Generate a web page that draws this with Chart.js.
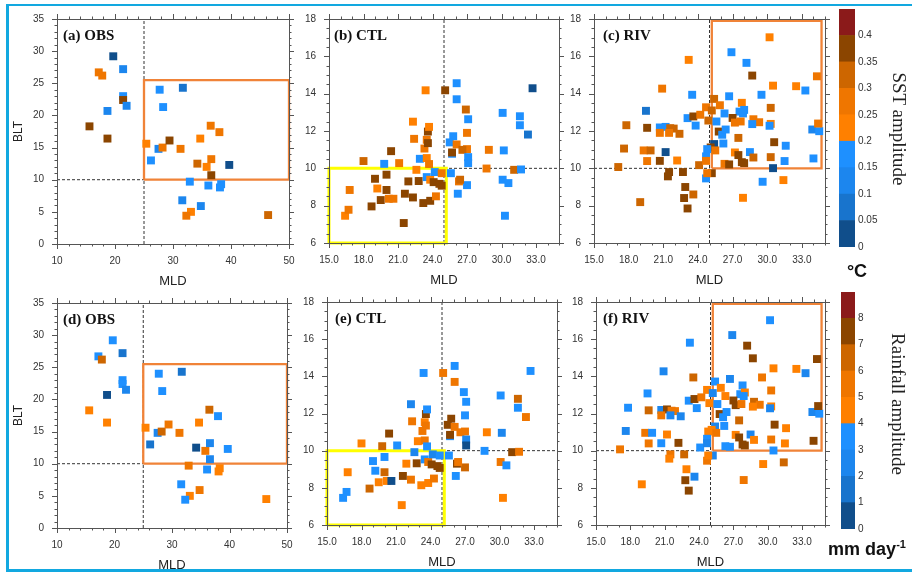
<!DOCTYPE html>
<html>
<head>
<meta charset="utf-8">
<script src="https://cdn.jsdelivr.net/npm/chart.js@4.4.1/dist/chart.umd.min.js"></script>
<style>
body { margin: 0; background: #fff; }
#fig { position: relative; width: 912px; height: 573px; overflow: hidden; background: #fff; }
#fig canvas { position: absolute; }
.edge { position: absolute; left: 6px; top: 4px; width: 940px; height: 563px;
        border-top: 2px solid #12a8e0; border-left: 3px solid #12a8e0; border-bottom: 3px solid #12a8e0; }
.ptitle { position: absolute; font: bold 15px "Liberation Serif", serif; line-height: 15px; color: #111; white-space: nowrap; }
.cbtitle { position: absolute; font: 19px "Liberation Serif", serif; line-height: 20px; color: #222; white-space: nowrap;
           transform: translate(-50%, -50%) rotate(90deg); }
.unit { position: absolute; font: bold 18px "Liberation Sans", Arial, sans-serif; line-height: 20px; color: #111; white-space: nowrap;
        transform: translate(-50%, -50%); }
.unit sup { font-size: 11px; }
</style>
</head>
<body>
<div id="fig"><div class="edge"></div></div>
<script>
// colour bar bins (shared by SST and rainfall amplitude)
const cbColors = ['#104e8b', '#1874cd', '#1c86ee', '#1e90ff', '#ff8000', '#ef7600', '#cd6600', '#8b4500', '#8b1a1a'];
const sstLevels = [0, 0.05, 0.1, 0.15, 0.2, 0.25, 0.3, 0.35, 0.4];
const sstLabels = ['0', '0.05', '0.1', '0.15', '0.2', '0.25', '0.3', '0.35', '0.4'];
const rainLevels = [0, 1, 2, 3, 4, 5, 6, 7, 8];
const rainLabels = ['0', '1', '2', '3', '4', '5', '6', '7', '8'];

// tick labels
const obsXTicks = [10, 20, 30, 40, 50];
const obsYTicks = [0, 5, 10, 15, 20, 25, 30, 35];
const modXTicks = [15, 18, 21, 24, 27, 30, 33];
const modYTicks = [6, 8, 10, 12, 14, 16, 18];

// OBS
const obsMLD = [19.7, 17.2, 17.8, 21.4, 21.4, 21.4, 22.0, 18.7, 15.6, 18.7, 27.7, 31.7, 28.3, 25.4, 27.5, 28.2, 29.4, 31.3, 26.2, 34.7,
  36.5, 38.0, 34.2, 35.8, 36.6, 36.6, 39.7, 32.9, 36.1, 38.1, 38.3, 31.6, 34.8, 33.1, 32.3, 46.4];
const obsBLT = [29.2, 26.7, 26.2, 27.2, 23.0, 22.4, 21.5, 20.7, 18.3, 16.4, 24.0, 24.3, 21.3, 15.6, 14.8, 15.0, 16.1, 14.8, 13.0, 16.4,
  18.4, 17.4, 12.5, 12.0, 13.2, 10.7, 12.3, 9.7, 9.1, 8.8, 9.3, 6.8, 5.9, 5.0, 4.4, 4.5];
const obsSST = [0.03, 0.27, 0.28, 0.12, 0.17, 0.37, 0.12, 0.11, 0.37, 0.38, 0.18, 0.08, 0.17, 0.24, 0.13, 0.26, 0.37, 0.27, 0.16, 0.24,
  0.26, 0.27, 0.33, 0.24, 0.26, 0.36, 0.04, 0.17, 0.16, 0.17, 0.18, 0.13, 0.12, 0.24, 0.26, 0.32];
const obsRain = [3.3, 3.5, 6.5, 1.8, 3.5, 3.4, 2.0, 0.5, 4.5, 4.6, 3.5, 1.8, 3.5, 4.7, 2.8, 6.4, 5.2, 5.4, 1.8, 4.5,
  6.3, 3.1, 0.6, 5.3, 2.6, 2.9, 3.2, 5.2, 3.3, 4.6, 4.4, 3.2, 5.4, 4.8, 3.4, 4.6];

// CTL
const ctlMLD = [16.4, 16.7, 16.8, 18.0, 18.7, 19.0, 19.2, 19.5, 19.8, 20.0, 20.0, 20.2, 20.6, 20.4, 21.1, 21.5, 21.6, 21.9, 22.3, 22.3,
  22.4, 22.6, 22.8, 22.9, 23.2, 23.3, 23.4, 23.5, 23.5, 23.6, 23.6, 23.7, 23.7, 23.5, 23.8, 23.8, 24.1, 24.2, 24.3, 24.6,
  24.8, 24.8, 25.1, 26.1, 26.1, 25.8, 25.5, 25.7, 25.7, 25.6, 26.1, 26.9, 27.1, 27.0, 27.0, 26.6, 27.1, 27.1, 27.0, 26.3,
  26.4, 26.2, 28.7, 28.9, 30.1, 30.2, 30.1, 30.6, 30.3, 31.1, 31.6, 31.6, 31.7, 32.3, 32.7];
const ctlBLT = [7.46, 7.78, 8.84, 10.39, 7.96, 9.44, 8.92, 8.30, 10.24, 9.66, 8.84, 8.37, 8.37, 10.92, 10.28, 7.07, 8.64, 9.30, 8.44, 12.5,
  11.58, 9.92, 9.32, 10.51, 8.14, 11.06, 14.18, 11.53, 10.55, 11.97, 11.35, 12.22, 10.23, 9.53, 9.39, 8.26, 9.26, 9.80, 8.50, 9.17,
  9.07, 9.74, 14.18, 14.56, 13.70, 11.72, 11.39, 10.78, 10.85, 9.74, 11.28, 13.15, 12.63, 11.9, 11.03, 10.99, 10.6, 10.28, 9.1, 9.3,
  9.39, 8.64, 9.99, 10.99, 12.97, 10.96, 9.39, 9.21, 7.46, 9.92, 12.79, 12.31, 9.94, 11.81, 14.29];
const ctlSST = [0.24, 0.26, 0.27, 0.32, 0.37, 0.37, 0.24, 0.37, 0.17, 0.37, 0.37, 0.27, 0.27, 0.38, 0.26, 0.38, 0.37, 0.37, 0.37, 0.24,
  0.27, 0.24, 0.37, 0.17, 0.38, 0.27, 0.24, 0.27, 0.24, 0.38, 0.37, 0.24, 0.27, 0.16, 0.24, 0.37, 0.38, 0.17, 0.27, 0.37,
  0.38, 0.26, 0.38, 0.17, 0.16, 0.17, 0.16, 0.17, 0.37, 0.17, 0.27, 0.32, 0.17, 0.26, 0.27, 0.32, 0.17, 0.17, 0.16, 0.27,
  0.32, 0.16, 0.27, 0.26, 0.17, 0.17, 0.17, 0.16, 0.17, 0.33, 0.17, 0.16, 0.16, 0.08, 0.03];
const ctlRain = [3.3, 3.4, 4.6, 4.5, 6.5, 3.3, 3.2, 4.7, 6.3, 3.4, 6.6, 4.8, 0.5, 7.5, 3.3, 4.6, 7.4, 4.5, 5.3, 2.5,
  5.2, 2.6, 7.3, 4.7, 4.8, 5.1, 3.5, 4.9, 5.0, 7.4, 5.2, 3.2, 3.3, 3.1, 5.1, 4.9, 7.2, 2.8, 5.3, 7.4,
  7.6, 3.5, 5.3, 3.4, 5.2, 7.4, 7.3, 3.2, 7.4, 3.3, 5.3, 3.2, 3.4, 3.3, 5.2, 5.5, 2.5, 0.6, 6.5, 7.3,
  5.3, 3.3, 3.4, 4.8, 3.1, 2.8, 5.1, 3.0, 4.6, 7.4, 6.3, 3.3, 5.1, 5.2, 3.4];

// RIV
const rivMLD = [30.2, 26.9, 23.2, 28.2, 28.7, 20.9, 30.5, 32.5, 33.3, 34.3, 23.5, 26.7, 29.5, 25.4, 25.9, 27.8, 30.3, 19.5, 24.7, 25.2,
  26.3, 27.6, 28.0, 27.9, 23.1, 23.6, 24.2, 24.9, 25.6, 27.0, 27.2, 27.7, 28.8, 29.3, 28.7, 30.3, 30.2, 17.8, 19.6, 20.7,
  21.2, 20.7, 21.6, 21.9, 21.5, 22.4, 23.8, 25.8, 26.1, 26.4, 33.9, 34.5, 34.4, 27.5, 26.2, 25.4, 25.1, 25.5, 24.8, 30.6,
  31.6, 17.6, 19.3, 19.9, 21.2, 24.7, 27.2, 27.5, 28.5, 28.8, 30.3, 31.5, 34.0, 17.1, 19.6, 20.7, 22.2, 24.1, 24.7, 26.3,
  26.7, 27.8, 28.0, 30.5, 21.5, 21.4, 22.7, 25.2, 24.7, 24.8, 29.6, 31.4, 22.9, 23.6, 22.8, 19.0, 27.9, 23.1];
const rivBLT = [17.02, 16.22, 15.81, 15.65, 14.97, 14.27, 14.43, 14.4, 14.17, 14.93, 13.94, 13.86, 13.94, 13.72, 13.38, 13.51, 13.24, 13.08, 13.27, 13.10,
  12.94, 13.04, 13.13, 12.94, 12.69, 12.78, 12.87, 12.56, 12.51, 12.7, 12.45, 12.51, 12.63, 12.47, 12.37, 12.38, 12.28, 12.31, 12.17, 12.19,
  12.22, 11.9, 12.15, 12.13, 11.9, 11.85, 12.29, 11.97, 11.8, 12.08, 12.08, 11.99, 12.4, 11.63, 11.33, 11.3, 11.12, 10.96, 11.03, 11.40,
  11.21, 11.06, 10.96, 10.96, 10.87, 10.64, 10.85, 10.71, 10.87, 10.58, 10.6, 10.39, 10.53, 10.07, 10.39, 10.4, 10.42, 10.17, 10.4, 10.24,
  10.21, 10.33, 10.28, 10.01, 9.80, 9.57, 9.80, 9.74, 9.46, 9.74, 9.28, 9.37, 9.0, 8.6, 8.41, 8.19, 8.42, 7.85];
const rivSST = [0.24, 0.16, 0.24, 0.17, 0.37, 0.27, 0.24, 0.24, 0.16, 0.26, 0.17, 0.17, 0.16, 0.32, 0.27, 0.24, 0.32, 0.08, 0.28, 0.33,
  0.17, 0.17, 0.17, 0.16, 0.16, 0.37, 0.28, 0.34, 0.16, 0.37, 0.27, 0.26, 0.27, 0.27, 0.17, 0.24, 0.16, 0.31, 0.37, 0.16,
  0.16, 0.27, 0.31, 0.31, 0.27, 0.32, 0.16, 0.37, 0.16, 0.17, 0.12, 0.17, 0.28, 0.31, 0.16, 0.03, 0.36, 0.27, 0.17, 0.37,
  0.17, 0.31, 0.27, 0.31, 0.03, 0.17, 0.24, 0.37, 0.16, 0.31, 0.31, 0.17, 0.16, 0.31, 0.27, 0.37, 0.24, 0.31, 0.27, 0.26,
  0.37, 0.37, 0.37, 0.03, 0.37, 0.37, 0.37, 0.37, 0.17, 0.27, 0.17, 0.24, 0.37, 0.32, 0.37, 0.31, 0.24, 0.37];
const rivRain = [3.4, 2.2, 3.3, 7.5, 7.4, 2.5, 4.6, 4.7, 2.3, 7.5, 6.3, 2.3, 5.3, 3.3, 4.8, 3.3, 5.2, 3.1, 4.8, 2.8,
  4.8, 3.4, 4.8, 3.3, 3.2, 7.4, 5.3, 4.8, 3.3, 7.4, 7.3, 5.2, 6.3, 5.3, 4.8, 4.7, 2.5, 3.5, 6.4, 2.6,
  7.3, 5.3, 5.2, 5.3, 2.6, 2.6, 3.3, 7.4, 3.3, 3.4, 2.4, 3.4, 7.3, 6.4, 3.2, 2.6, 4.7, 5.3, 4.7, 7.4,
  4.8, 2.4, 5.3, 3.4, 4.7, 3.3, 4.8, 7.3, 2.6, 4.8, 5.2, 4.8, 7.4, 5.2, 5.3, 3.4, 7.3, 3.4, 2.6, 3.4,
  3.3, 7.5, 7.4, 3.4, 5.2, 4.8, 6.4, 2.5, 5.2, 4.8, 4.8, 6.3, 4.7, 2.9, 7.4, 4.8, 5.3, 7.4];

// reference lines and boxes: [x0, x1, y0, y1]
const mldRef = 25, bltRef = 10;
const obsBox = [25, 50, 10, 25.5];
const ctlBox = [15, 25.2, 6, 10];
const rivBox = [25.2, 34.7, 10, 17.9];

Chart.defaults.font.family = '"Liberation Sans", Arial, sans-serif';
Chart.defaults.color = '#333';

const fig = document.getElementById('fig');

function binColor(v, levels) {
  let n = 0;
  levels.forEach(l => { if (v >= l) n++; });
  return cbColors[Math.max(0, n - 1)];
}

// keep the plot area fixed: drop the label overflow padding that Chart.js adds
function fixSize(s, w, h) {
  if (w !== null) s.width = w;
  if (h !== null) s.height = h;
  s.paddingTop = 0; s.paddingBottom = 0; s.paddingLeft = 0; s.paddingRight = 0;
}

// frame with outward major + minor ticks on all four sides
const framePlugin = {
  id: 'frame',
  afterDatasetsDraw(chart, args, o) {
    const { ctx, chartArea: a, scales: { x, y } } = chart;
    ctx.save();
    ctx.strokeStyle = '#555';
    ctx.lineWidth = 1;
    ctx.strokeRect(Math.round(a.left) + 0.5, Math.round(a.top) + 0.5, Math.round(a.right - a.left), Math.round(a.bottom - a.top));
    const tickX = (v, len) => {
      const p = Math.round(x.getPixelForValue(v)) + 0.5;
      ctx.moveTo(p, a.bottom); ctx.lineTo(p, a.bottom + len);
      ctx.moveTo(p, a.top); ctx.lineTo(p, a.top - len);
    };
    const tickY = (v, len) => {
      const p = Math.round(y.getPixelForValue(v)) + 0.5;
      ctx.moveTo(a.left, p); ctx.lineTo(a.left - len, p);
      ctx.moveTo(a.right, p); ctx.lineTo(a.right + len, p);
    };
    ctx.beginPath();
    x.ticks.forEach(t => tickX(t.value, 5));
    y.ticks.forEach(t => tickY(t.value, 5));
    for (let v = x.min; v <= x.max + 1e-9; v += o.xMinor) tickX(v, 2.5);
    for (let v = y.min; v <= y.max + 1e-9; v += o.yMinor) tickY(v, 2.5);
    ctx.stroke();
    ctx.restore();
  }
};

const panels = [
  { title: '(a) OBS', tdx: 6, mld: obsMLD, blt: obsBLT, amp: obsSST, levels: sstLevels, area: [57, 19, 289, 244],
    xr: [10, 50], yr: [0, 35], xt: obsXTicks, yt: obsYTicks, xMinor: 2, yMinor: 1, box: obsBox, boxColor: '#f08338', boxW: 2.3,
    hLine: [10, 25], yTitle: true, fmt: v => v },
  { title: '(b) CTL', tdx: 5, mld: ctlMLD, blt: ctlBLT, amp: ctlSST, levels: sstLevels, area: [329, 19, 559, 243],
    xr: [15, 35], yr: [6, 18], xt: modXTicks, yt: modYTicks, xMinor: 1, yMinor: 0.5, box: ctlBox, boxColor: '#ffff00', boxW: 3,
    hLine: [25, 35], yTitle: false, fmt: v => v.toFixed(1) },
  { title: '(c) RIV', tdx: 9, mld: rivMLD, blt: rivBLT, amp: rivSST, levels: sstLevels, area: [594, 19, 825, 243],
    xr: [15, 35], yr: [6, 18], xt: modXTicks, yt: modYTicks, xMinor: 1, yMinor: 0.5, box: rivBox, boxColor: '#f08338', boxW: 2.3,
    hLine: [15, 25], yTitle: false, fmt: v => v.toFixed(1) },
  { title: '(d) OBS', tdx: 6, mld: obsMLD, blt: obsBLT, amp: obsRain, levels: rainLevels, area: [57, 303, 287, 528],
    xr: [10, 50], yr: [0, 35], xt: obsXTicks, yt: obsYTicks, xMinor: 2, yMinor: 1, box: obsBox, boxColor: '#f08338', boxW: 2.3,
    hLine: [10, 25], yTitle: true, fmt: v => v },
  { title: '(e) CTL', tdx: 8, mld: ctlMLD, blt: ctlBLT, amp: ctlRain, levels: rainLevels, area: [327, 302, 557, 525],
    xr: [15, 35], yr: [6, 18], xt: modXTicks, yt: modYTicks, xMinor: 1, yMinor: 0.5, box: ctlBox, boxColor: '#ffff00', boxW: 3,
    hLine: [25, 35], yTitle: false, fmt: v => v.toFixed(1) },
  { title: '(f) RIV', tdx: 7, mld: rivMLD, blt: rivBLT, amp: rivRain, levels: rainLevels, area: [596, 302, 825, 525],
    xr: [15, 35], yr: [6, 18], xt: modXTicks, yt: modYTicks, xMinor: 1, yMinor: 0.5, box: rivBox, boxColor: '#f08338', boxW: 2.3,
    hLine: [15, 25], yTitle: false, fmt: v => v.toFixed(1) }
];

function makePanel(p) {
  const [L, T, R, B] = p.area;
  const cv = document.createElement('canvas');
  cv.width = R - L + 60;
  cv.height = B - T + 55;
  cv.style.left = (L - 50) + 'px';
  cv.style.top = (T - 10) + 'px';
  fig.appendChild(cv);

  const [bx0, bx1, by0, by1] = p.box;
  new Chart(cv, {
    type: 'scatter',
    data: {
      datasets: [
        {
          data: p.mld.map((m, i) => ({ x: m, y: p.blt[i] })),
          pointStyle: 'rect',
          pointRadius: 5.6,
          pointBorderWidth: 0,
          pointBackgroundColor: p.amp.map(v => binColor(v, p.levels))
        },
        {
          data: [{ x: bx0, y: by0 }, { x: bx1, y: by0 }, { x: bx1, y: by1 }, { x: bx0, y: by1 }, { x: bx0, y: by0 }],
          showLine: true, pointRadius: 0, borderColor: p.boxColor, borderWidth: p.boxW, clip: false
        },
        {
          data: [{ x: mldRef, y: p.yr[0] }, { x: mldRef, y: p.yr[1] }],
          showLine: true, pointRadius: 0, borderColor: '#333', borderWidth: 1, borderDash: [3, 2]
        },
        {
          data: [{ x: p.hLine[0], y: bltRef }, { x: p.hLine[1], y: bltRef }],
          showLine: true, pointRadius: 0, borderColor: '#333', borderWidth: 1, borderDash: [3, 2]
        }
      ]
    },
    options: {
      responsive: false,
      animation: false,
      devicePixelRatio: 1,
      layout: { padding: { left: 0, top: 10, right: 10, bottom: 0 } },
      plugins: {
        legend: { display: false },
        tooltip: { enabled: false },
        frame: { xMinor: p.xMinor, yMinor: p.yMinor }
      },
      scales: {
        x: {
          type: 'linear', min: p.xr[0], max: p.xr[1],
          afterBuildTicks: s => { s.ticks = p.xt.map(v => ({ value: v })); },
          afterFit: s => fixSize(s, null, 45),
          grid: { display: false, drawTicks: false },
          border: { display: false },
          ticks: { padding: 11, font: { size: 10 }, color: '#333', maxRotation: 0, autoSkip: false, callback: v => p.fmt(v) },
          title: { display: true, text: 'MLD', font: { size: 13 }, color: '#222', padding: { top: 0, bottom: 0 } }
        },
        y: {
          type: 'linear', min: p.yr[0], max: p.yr[1],
          afterBuildTicks: s => { s.ticks = p.yt.map(v => ({ value: v })); },
          afterFit: s => fixSize(s, 50, null),
          grid: { display: false, drawTicks: false },
          border: { display: false },
          ticks: { padding: 13, font: { size: 10 }, color: '#333', autoSkip: false },
          title: { display: p.yTitle, text: 'BLT', font: { size: 12 }, color: '#222', padding: { top: 4, bottom: 0 } }
        }
      }
    },
    plugins: [framePlugin]
  });

  const t = document.createElement('div');
  t.className = 'ptitle';
  t.textContent = p.title;
  t.style.left = (L + p.tdx) + 'px';
  t.style.top = (T + 9) + 'px';
  fig.appendChild(t);
}

panels.forEach(makePanel);

// colour bars
function makeColorBar(area, labels) {
  const [L, T, R, B] = area;
  const cv = document.createElement('canvas');
  cv.width = R - L + 40;
  cv.height = B - T + 11;
  cv.style.left = (L - 4) + 'px';
  cv.style.top = (T - 5) + 'px';
  fig.appendChild(cv);
  new Chart(cv, {
    type: 'bar',
    data: {
      labels: [''],
      datasets: cbColors.map(c => ({ data: [1], backgroundColor: c, barPercentage: 1, categoryPercentage: 1 }))
    },
    options: {
      responsive: false,
      animation: false,
      devicePixelRatio: 1,
      layout: { padding: { left: 4, top: 5, right: 0, bottom: 6 } },
      plugins: { legend: { display: false }, tooltip: { enabled: false } },
      scales: {
        x: { stacked: true, display: false },
        y: {
          stacked: true, position: 'right', min: 0, max: cbColors.length,
          afterBuildTicks: s => { s.ticks = labels.map((l, i) => ({ value: i })); },
          afterFit: s => fixSize(s, 36, null),
          grid: { display: false, drawTicks: false },
          border: { display: false },
          ticks: { padding: 3, font: { size: 10 }, color: '#333', callback: v => labels[v] }
        }
      }
    }
  });
}

makeColorBar([839, 9, 855, 247], sstLabels);
makeColorBar([841, 292, 855, 529], rainLabels);

function addText(cls, html, cx, cy) {
  const d = document.createElement('div');
  d.className = cls;
  d.innerHTML = html;
  d.style.left = cx + 'px';
  d.style.top = cy + 'px';
  fig.appendChild(d);
}
addText('cbtitle', 'SST amplitude', 899, 129);
addText('cbtitle', 'Rainfall amplitude', 898, 404);
addText('unit', '°C', 857, 271);
addText('unit', 'mm day<sup>-1</sup>', 867, 546);
</script>
</body>
</html>
